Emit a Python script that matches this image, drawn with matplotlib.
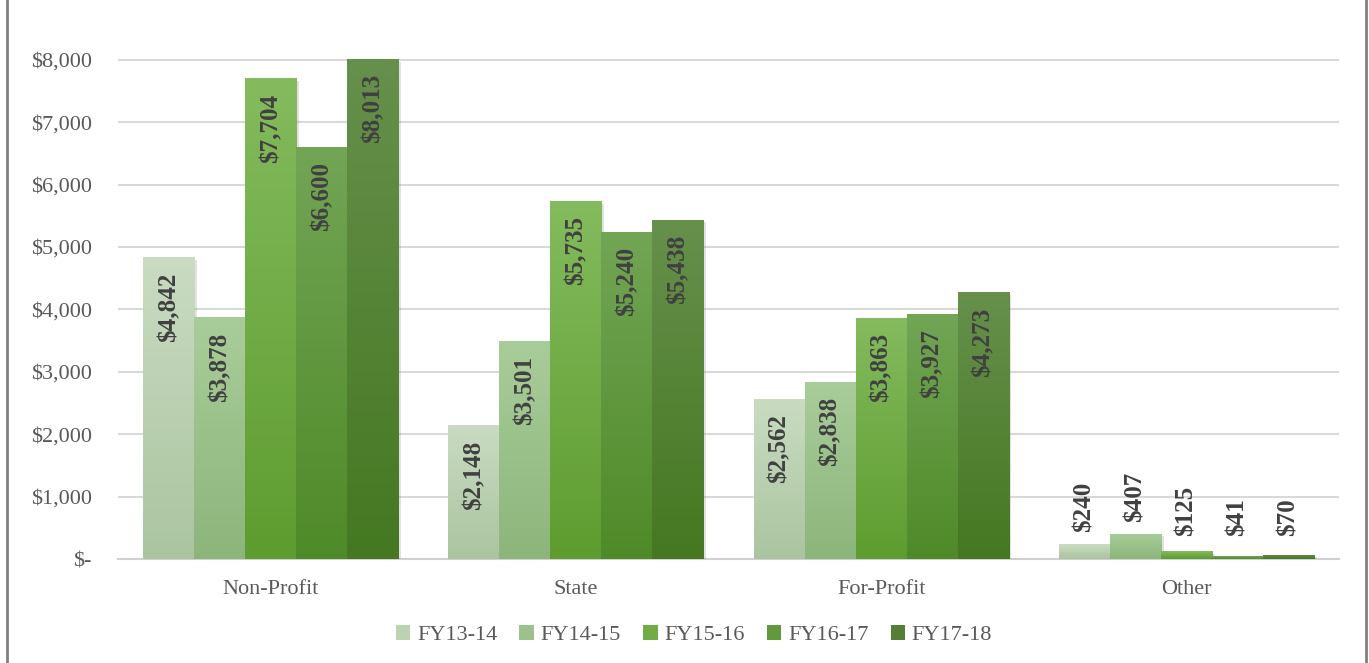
import numpy as np
import matplotlib
matplotlib.use("Agg")
import matplotlib.pyplot as plt
from matplotlib.colors import LinearSegmentedColormap
from matplotlib.patches import Patch
from matplotlib.lines import Line2D
import matplotlib.patheffects as pe

categories = ["Non-Profit", "State", "For-Profit", "Other"]
series_names = ["FY13-14", "FY14-15", "FY15-16", "FY16-17", "FY17-18"]
fy13_14 = [4842, 2148, 2562, 240]
fy14_15 = [3878, 3501, 2838, 407]
fy15_16 = [7704, 5735, 3863, 125]
fy16_17 = [6600, 5240, 3927, 41]
fy17_18 = [8013, 5438, 4273, 70]
series_values = [fy13_14, fy14_15, fy15_16, fy16_17, fy17_18]
yticks = [0, 1000, 2000, 3000, 4000, 5000, 6000, 7000, 8000]
ytick_labels = ["$-", "$1,000", "$2,000", "$3,000", "$4,000", "$5,000", "$6,000", "$7,000", "$8,000"]

top_colors = ["#c9dcc2", "#a9cd9a", "#84bb5e", "#72a555", "#66904c"]
bottom_colors = ["#abc4a0", "#8cb57b", "#5e9c2f", "#4f8a28", "#457821"]
legend_colors = ["#bcd3b2", "#9cc18b", "#70ad47", "#609a3c", "#557f35"]

plt.rcParams['font.family'] = ['Liberation Serif', 'DejaVu Serif']

fig = plt.figure(figsize=(13.69, 6.63), dpi=100)
ax = fig.add_axes([118/1369, 1 - 559/663, (1339-118)/1369, (559-34.9)/663])

n = len(series_names)
group_w = 0.836
bw = group_w / n
x = np.arange(len(categories))

ax.set_xlim(-0.5, len(categories) - 0.5)
ax.set_ylim(0, 8400)

for i, (name, vals) in enumerate(zip(series_names, series_values)):
    offs = x - group_w / 2 + bw * (i + 0.5)
    bars = ax.bar(offs, vals, width=bw, color=bottom_colors[i], zorder=3, linewidth=0,
                  path_effects=[pe.SimplePatchShadow(offset=(2, -2), alpha=0.25, shadow_rgbFace="#888888"), pe.Normal()])
    cmap = LinearSegmentedColormap.from_list("g%d" % i, [bottom_colors[i], top_colors[i]])
    grad = np.linspace(0, 1, 256).reshape(-1, 1)
    for b, v in zip(bars, vals):
        im = ax.imshow(grad, cmap=cmap, origin="lower", aspect="auto",
                       extent=[b.get_x(), b.get_x() + b.get_width(), 0, v], zorder=4)
        im.set_clip_path(b)
        label = "${:,}".format(v)
        if v > 1500:
            ax.annotate(label, (b.get_x() + b.get_width() / 2, v), xytext=(0, -11),
                        textcoords="offset points", rotation=90, ha="center", va="top",
                        fontsize=18, fontweight="bold", color="#404040", zorder=6)
        else:
            ax.annotate(label, (b.get_x() + b.get_width() / 2, max(v, 170)), xytext=(0, 8.6),
                        textcoords="offset points", rotation=90, ha="center", va="bottom",
                        fontsize=18, fontweight="bold", color="#404040", zorder=6)

ax.set_yticks(yticks)
ax.set_yticklabels(ytick_labels)
ax.set_xticks(x)
ax.set_xticklabels(categories)
ax.tick_params(axis="y", length=0, pad=19, labelsize=16, labelcolor="#595959")
ax.tick_params(axis="x", length=0, pad=15, labelsize=16, labelcolor="#595959")
ax.yaxis.grid(True, color="#d9d9d9", linewidth=1.5, zorder=0)
ax.set_axisbelow(True)
for s in ["top", "right", "left"]:
    ax.spines[s].set_visible(False)
ax.spines["bottom"].set_color("#d0d0d0")
ax.spines["bottom"].set_linewidth(1.5)
ax.spines["bottom"].set_zorder(2)

handles = [Patch(facecolor=c, edgecolor="none") for c in legend_colors]
fig.legend(handles, series_names, loc="center", bbox_to_anchor=(694/1369, 1 - 635/663),
           ncol=5, frameon=False, fontsize=16, labelcolor="#595959",
           handlelength=0.65, handleheight=0.65, handletextpad=0.3, columnspacing=1.0)

fig.add_artist(Line2D([7/1369, 7/1369], [0, 1], color="#808080", linewidth=2))
fig.add_artist(Line2D([1366/1369, 1366/1369], [0, 1], color="#808080", linewidth=2))

fig.savefig("out.png", dpi=100, facecolor="white")
